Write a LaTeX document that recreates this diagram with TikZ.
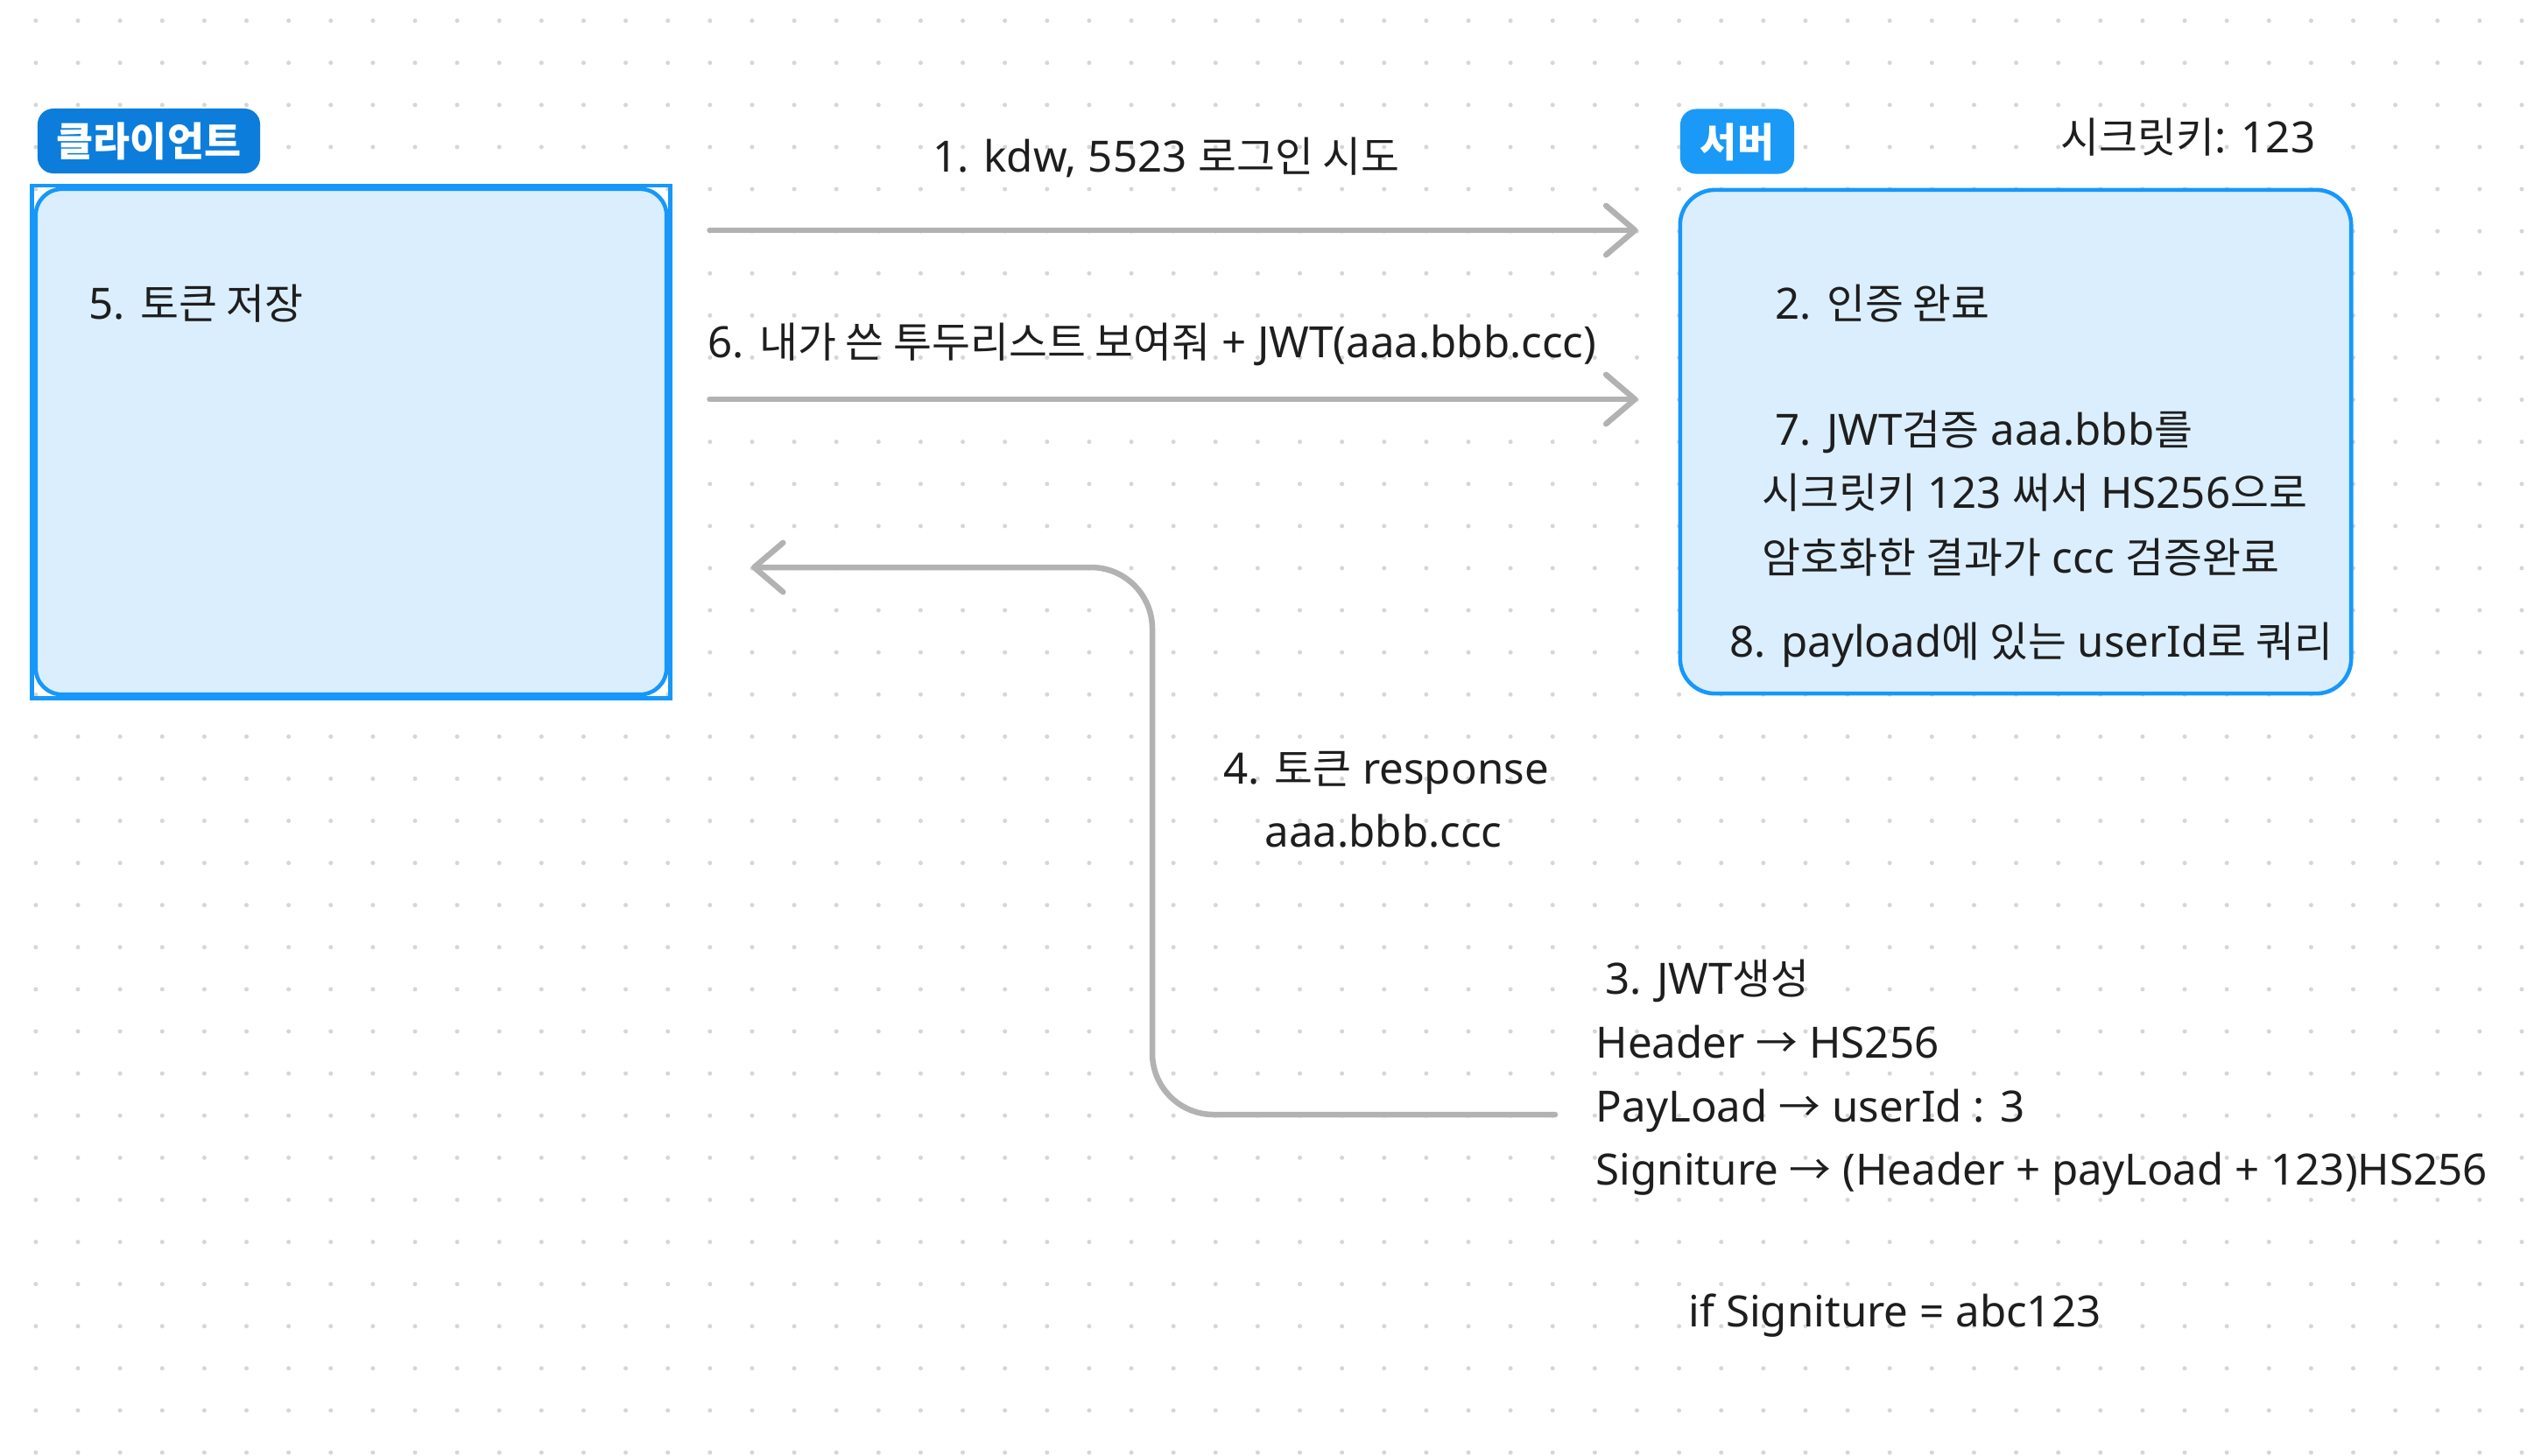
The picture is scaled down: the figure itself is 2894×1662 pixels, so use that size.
\documentclass[tikz,border=0pt]{standalone}
\usepackage{fontspec}
\setmainfont{Noto Sans}
\newfontfamily\krfont{Noto Sans CJK KR}[Scale=0.97]
\newcommand{\ko}[1]{{\krfont #1}}
\newcommand{\ra}{{\krfont →}}
\usetikzlibrary{arrows.meta}

\definecolor{ink}{RGB}{30,30,30}
\definecolor{dotgray}{RGB}{214,214,214}
\definecolor{boxfill}{RGB}{219,238,253}
\definecolor{boxline}{RGB}{22,152,250}
\definecolor{tagdark}{RGB}{12,125,218}
\definecolor{taglight}{RGB}{26,153,246}
\definecolor{flowgray}{RGB}{178,178,178}

\begin{document}
\begin{tikzpicture}[x=0.01cm, y=-0.01cm,
    txt/.style={inner sep=0pt, text=ink, font=\fontsize{14pt}{17pt}\selectfont, text height=13pt, text depth=3pt},
    note/.style={txt, anchor=west},
    tag/.style={rounded corners=0.18cm, inner sep=0pt, text=white, font=\fontsize{13.4pt}{16pt}\selectfont\krfont\bfseries, text height=12pt, text depth=2pt, minimum height=0.74cm},
    party/.style={draw=boxline, fill=boxfill, line width=1.3pt, rounded corners=0.4cm, minimum height=5.75cm, inner sep=0pt},
    flow/.style={draw=flowgray, line width=1.85pt, line cap=round, -{Straight Barb[length=9.4pt, width=16pt, round]}}]

        % the canvas with its dots
        \useasboundingbox[fill=white] (0,0) rectangle (2894,1662);
        \foreach \i in {0,...,59}
          \foreach \j in {0,...,34}
            \fill[dotgray] ({40.9+48.12*\i},{23.6+48.1*\j}) circle (0.025cm);

        % client and server
        \node[party, rounded corners=0.3cm, minimum width=7.2cm, minimum height=5.77cm] (client) at (401,504.5) {};
        \draw[boxline, line width=1.15pt] ([shift={(-2,-2)}]client.north west) rectangle ([shift={(2,2)}]client.south east);
        \node[party, minimum width=7.66cm] (server) at (2302,504.5) {};

        \node[tag, fill=tagdark, minimum width=2.54cm] (clienttag) at (170,161) {클라이언트};
        \node[tag, fill=taglight, minimum width=1.30cm] (servertag) at (1984,161.5) {서버};
        \node[note] (secret) at (2353,157) {\ko{시크릿키}: 123};

        % what the boxes say
        \node[note] (store) at (101,347) {5. \ko{토큰 저장}};
        \node[note] (auth) at (2027,347) {2. \ko{인증 완료}};
        \node[note] (verify) at (2027,491) {7. JWT\ko{검증} aaa.bbb\ko{를}};
        \node[note] (verify2) at (2012,563) {\ko{시크릿키} 123 \ko{써서} HS256\ko{으로}};
        \node[note] (verify3) at (2012,637) {\ko{암호화한 결과가} ccc \ko{검증완료}};
        \node[note] (query) at (1975,733) {8. payload\ko{에 있는} userId\ko{로 쿼리}};

        % requests
        \node[txt] (login) at (1332,179) {1. kdw, 5523 \ko{로그인 시도}};
        \draw[flow, shorten <=0.47cm, shorten >=0.46cm] (client.east |- 0,263) -- (server.west |- 0,263);
        \node[note] (todo) at (808,391) {6. \ko{내가 쓴 투두리스트 보여줘} + JWT(aaa.bbb.ccc)};
        \draw[flow, shorten <=0.47cm, shorten >=0.46cm] (client.east |- 0,456) -- (server.west |- 0,456);

        % and the token going back
        \node[txt] (resp) at (1583,878) {4. \ko{토큰} response};
        \node[txt] (resp2) at (1580,950) {aaa.bbb.ccc};
        \coordinate (tokfrom) at (1776,1273);
        \coordinate (tokto) at (858,648);
        \draw[flow, rounded corners=0.7cm] (tokfrom) -| (1316,648) -- (tokto);

        \node[note] (jwt) at (1833,1118) {3. JWT\ko{생성}};
        \node[note] (header) at (1822,1191) {Header \ra{} HS256};
        \node[note] (pay) at (1822,1264) {PayLoad \ra{} userId : 3};
        \node[note] (sign) at (1822,1336) {Signiture \ra{} (Header + payLoad + 123)HS256};
        \node[note] (check) at (1928,1498) {if Signiture = abc123};
      \end{tikzpicture}
\end{document}
